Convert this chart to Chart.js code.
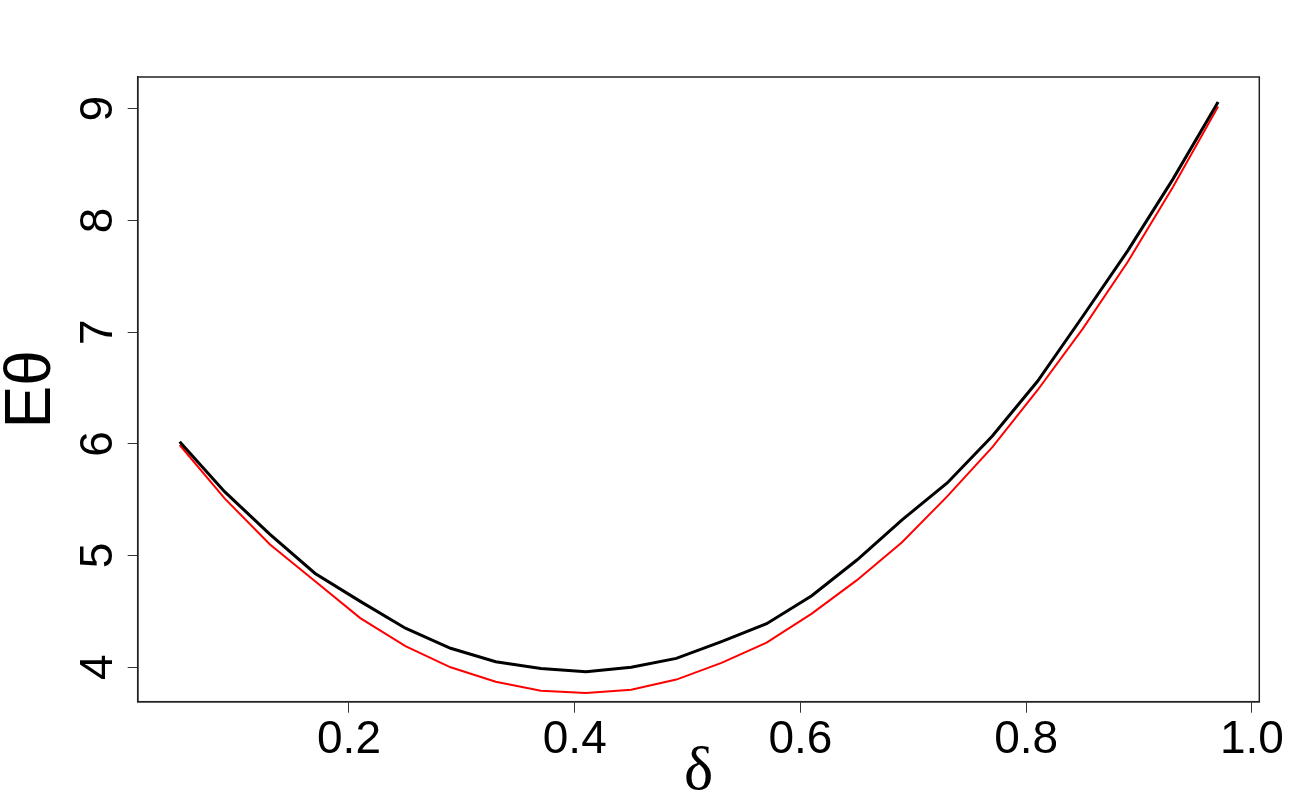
<!DOCTYPE html>
<html>
<head>
<meta charset="utf-8">
<script src="https://cdn.jsdelivr.net/npm/chart.js@4/dist/chart.umd.min.js"></script>
<style>
  html, body { margin: 0; background: #fff; }
  #wrap { width: 1300px; height: 800px; }
</style>
</head>
<body>
<div id="wrap"><canvas id="graphique"></canvas></div>
<script>
// Valeurs
const delta = [0.05, 0.09, 0.13, 0.17, 0.21, 0.25, 0.29, 0.33, 0.37, 0.41, 0.45, 0.49,
               0.53, 0.57, 0.61, 0.65, 0.69, 0.73, 0.77, 0.81, 0.85, 0.89, 0.93, 0.97];
const eThetaNoir = [6.02, 5.57, 5.19, 4.84, 4.59, 4.35, 4.17, 4.05, 3.99, 3.96, 4.00, 4.08,
                    4.23, 4.39, 4.64, 4.96, 5.32, 5.65, 6.07, 6.56, 7.14, 7.73, 8.37, 9.06];
const eThetaRouge = [5.99, 5.51, 5.10, 4.77, 4.44, 4.19, 4.00, 3.87, 3.79, 3.77, 3.80, 3.89,
                     4.04, 4.22, 4.48, 4.78, 5.12, 5.53, 5.97, 6.48, 7.03, 7.63, 8.30, 9.02];
const ticksX = [0.2, 0.4, 0.6, 0.8, 1.0];
const ticksY = [4, 5, 6, 7, 8, 9];

const police = "'Liberation Sans', Arial, sans-serif";

// Cadre autour de la zone du graphique + étiquettes de l'axe Y tournées (style R)
const cadrePlugin = {
    id: 'cadre',
    afterDraw(chart) {
        const ctx = chart.ctx;
        const a = chart.chartArea;
        ctx.save();
        ctx.strokeStyle = '#222';
        ctx.lineWidth = 1.5;
        ctx.strokeRect(a.left, a.top, a.right - a.left, a.bottom - a.top);

        const sy = chart.scales.y;
        ctx.fillStyle = '#000';
        ctx.font = '46px ' + police;
        ctx.textAlign = 'center';
        ctx.textBaseline = 'alphabetic';
        ticksY.forEach(v => {
            const py = sy.getPixelForValue(v);
            ctx.save();
            ctx.translate(112, py);
            ctx.rotate(-Math.PI / 2);
            ctx.fillText(String(v), 0, 0);
            ctx.restore();
        });
        ctx.restore();
    }
};

const ctx = document.getElementById('graphique').getContext('2d');
const graphique = new Chart(ctx, {
    type: 'line',
    data: {
        datasets: [{
            data: delta.map((d, i) => ({ x: d, y: eThetaNoir[i] })),
            borderColor: '#000',
            borderWidth: 3,
            pointRadius: 0,
            tension: 0
        }, {
            data: delta.map((d, i) => ({ x: d, y: eThetaRouge[i] })),
            borderColor: '#ff0000',
            borderWidth: 2,
            pointRadius: 0,
            tension: 0
        }]
    },
    options: {
        responsive: true,
        maintainAspectRatio: false,
        animation: false,
        layout: { padding: { top: 77, right: 40.7, left: 0, bottom: 0 } },
        plugins: { legend: { display: false }, tooltip: { enabled: false } },
        scales: {
            x: {
                type: 'linear',
                min: 0.0128,
                max: 1.0065,
                afterBuildTicks: s => { s.ticks = ticksX.map(v => ({ value: v })); },
                afterFit: s => { s.height = 800 - 701.7; },
                grid: { drawOnChartArea: false, drawTicks: true, tickLength: 11, color: '#333', lineWidth: 1 },
                border: { display: true, color: '#222', width: 1.5 },
                ticks: {
                    color: '#000',
                    padding: 0,
                    maxRotation: 0,
                    font: { family: police, size: 46 },
                    callback: v => Number(v).toFixed(1)
                },
                title: {
                    display: true,
                    text: 'δ',
                    color: '#000',
                    font: { family: "'Liberation Serif', 'Times New Roman', serif", size: 62, lineHeight: 1 },
                    padding: { top: 0, bottom: -4 }
                }
            },
            y: {
                min: 3.692,
                max: 9.284,
                afterBuildTicks: s => { s.ticks = ticksY.map(v => ({ value: v })); },
                afterFit: s => { s.width = 137.7; },
                grid: { drawOnChartArea: false, drawTicks: true, tickLength: 10, color: '#333', lineWidth: 1 },
                border: { display: true, color: '#222', width: 1.5 },
                ticks: { display: false },
                title: {
                    display: true,
                    text: 'Eθ',
                    color: '#000',
                    font: { family: police, size: 64, lineHeight: 1 },
                    padding: { top: 0, bottom: 0 }
                }
            }
        }
    },
    plugins: [cadrePlugin]
});
</script>
</body>
</html>
